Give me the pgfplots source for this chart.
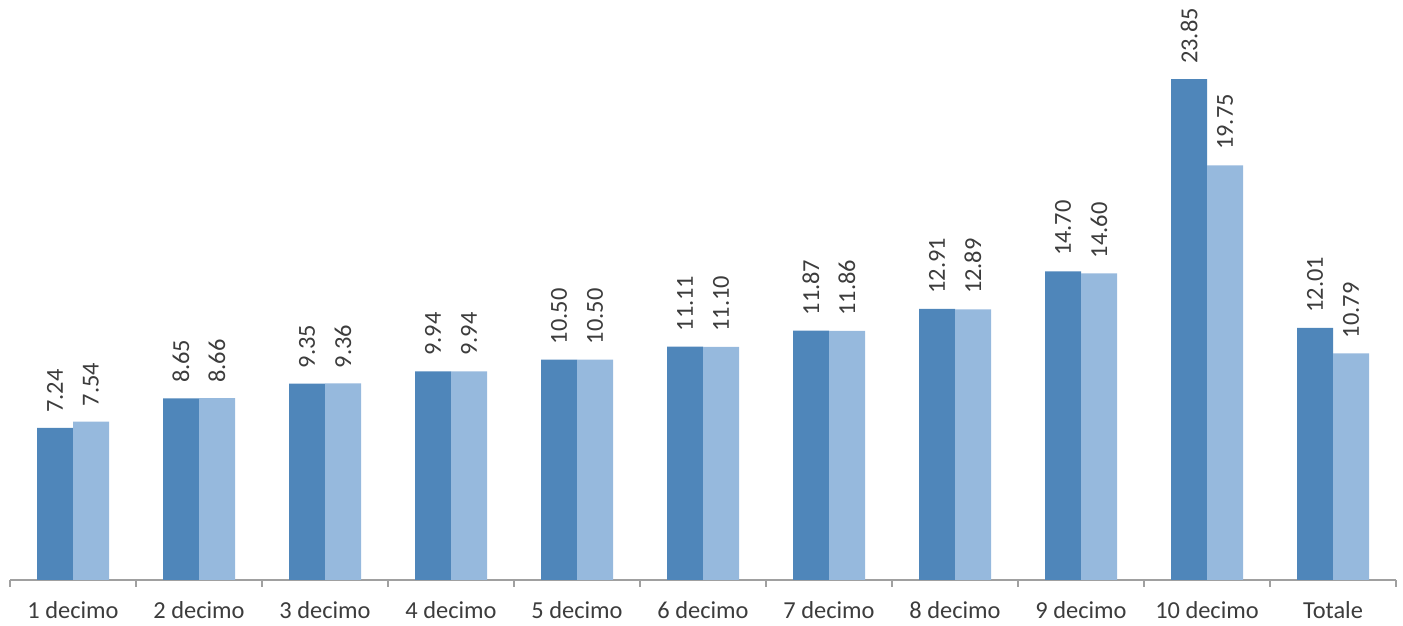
\documentclass[border=0pt]{standalone}
\usepackage{pgfplots}
\pgfplotsset{compat=1.18}
\usepackage{fontspec}
\setmainfont{Carlito}
\definecolor{barDark}{RGB}{79,134,186}
\definecolor{barLight}{RGB}{150,185,221}
\definecolor{txt}{RGB}{60,60,60}
\definecolor{axisgray}{RGB}{160,160,160}
\begin{document}
\begin{tikzpicture}
\useasboundingbox (0,0) rectangle (701.5pt,313pt);
\begin{axis}[
  at={(5pt,23pt)}, anchor=south west,
  scale only axis,
  width=693pt, height=290pt,
  xmin=-0.5, xmax=10.5,
  ymin=0, ymax=27.62,
  ybar=0pt, bar width=18pt,
  clip=false,
  axis y line=none,
  axis x line*=bottom,
  x axis line style={axisgray, line width=0.6pt, -},
  xtick={0,...,10},
  xticklabels={1 decimo,2 decimo,3 decimo,4 decimo,5 decimo,6 decimo,7 decimo,8 decimo,9 decimo,10 decimo,Totale},
  major x tick style={draw=none},
  extra x ticks={-0.5,0.5,...,10.5},
  extra x tick labels={},
  extra x tick style={major tick length=3.5pt, tick align=outside, major x tick style={draw=axisgray, line width=0.6pt}},
  x tick label style={font=\fontsize{12.2}{14}\selectfont, text=txt, yshift=-3pt},
  /pgf/number format/.cd, fixed, fixed zerofill, precision=2, assume math mode=true,
  /pgfplots/.cd,
  nodes near coords,
  every node near coord/.append style={rotate=90, anchor=west, inner xsep=7.5pt, inner ysep=0pt,
     font=\fontsize{12.2}{14}\selectfont, text=txt},
]
\addplot[fill=barDark, draw=none] coordinates {
  (0,7.24) (1,8.65) (2,9.35) (3,9.94) (4,10.50) (5,11.11)
  (6,11.87) (7,12.91) (8,14.70) (9,23.85) (10,12.01)};
\addplot[fill=barLight, draw=none] coordinates {
  (0,7.54) (1,8.66) (2,9.36) (3,9.94) (4,10.50) (5,11.10)
  (6,11.86) (7,12.89) (8,14.60) (9,19.75) (10,10.79)};
\end{axis}
\end{tikzpicture}
\end{document}
